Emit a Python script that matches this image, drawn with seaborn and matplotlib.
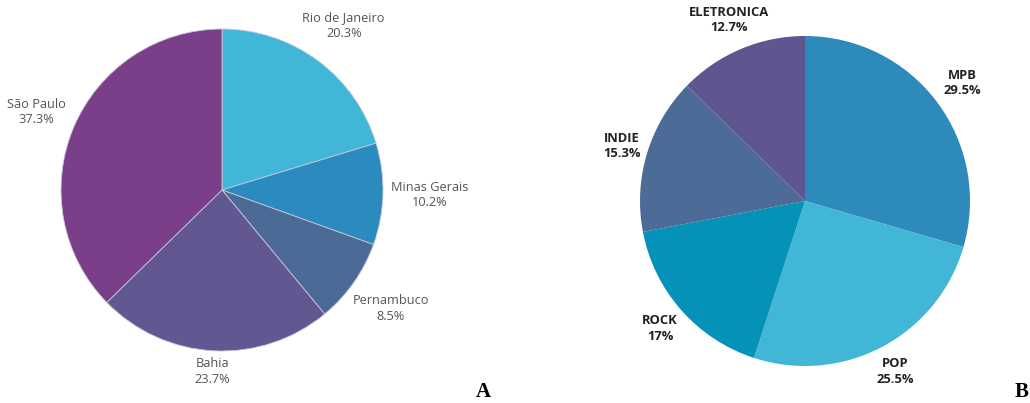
import numpy as np
import matplotlib.pyplot as plt
import seaborn as sns

# chart A - states
states = ['Rio de Janeiro', 'Minas Gerais', 'Pernambuco', 'Bahia', 'São Paulo']
state_pct = [20.3, 10.2, 8.5, 23.7, 37.3]
state_colors = ['#41b7d7', '#2b8bbf', '#4c6a96', '#615791', '#7a3f88']

# chart B - genres
genres = ['MPB', 'POP', 'ROCK', 'INDIE', 'ELETRONICA']
genre_pct = [29.5, 25.5, 17, 15.3, 12.7]
genre_colors = ['#2d8aba', '#42b6d6', '#0592b9', '#4c6b96', '#5f5690']

sns.set_theme(style='white')
plt.rcParams['font.family'] = ['Open Sans', 'DejaVu Sans']

fig = plt.figure(figsize=(10.30, 4.03), dpi=100)
ax = fig.add_axes([0, 0, 1, 1])


def draw_pie(values, names, colors, center, radius, dists, edge, lw, **txt):
    wedges, _ = ax.pie(values, colors=colors, startangle=90, counterclock=False,
                       center=center, radius=radius, frame=True,
                       wedgeprops=dict(edgecolor=edge, linewidth=lw))
    for w, name, v, d in zip(wedges, names, values, dists):
        ang = np.deg2rad((w.theta1 + w.theta2) / 2)
        x = center[0] + d * radius * np.cos(ang)
        y = center[1] + d * radius * np.sin(ang)
        ax.text(x, y, f'{name}\n{v:g}%', ha='center', va='center',
                multialignment='center', linespacing=1.25, **txt)


draw_pie(state_pct, states, state_colors, (222, 213), 161,
         [1.27, 1.29, 1.28, 1.13, 1.25],
         '#c9c6dc', 0.6, fontsize=9.2, color='#555555')

draw_pie(genre_pct, genres, genre_colors, (805, 202), 165,
         [1.19, 1.17, 1.17, 1.16, 1.19],
         'none', 0, fontsize=9.4, color='#222222', fontweight='bold')

ax.text(483, 11, 'A', ha='center', va='center', fontsize=15,
        fontweight='bold', family='Liberation Serif', color='black')
ax.text(1022, 11, 'B', ha='center', va='center', fontsize=15,
        fontweight='bold', family='Liberation Serif', color='black')

ax.set_xlim(0, 1030)
ax.set_ylim(0, 403)
ax.set_aspect('equal')
ax.axis('off')

plt.savefig('out.png', dpi=100)
